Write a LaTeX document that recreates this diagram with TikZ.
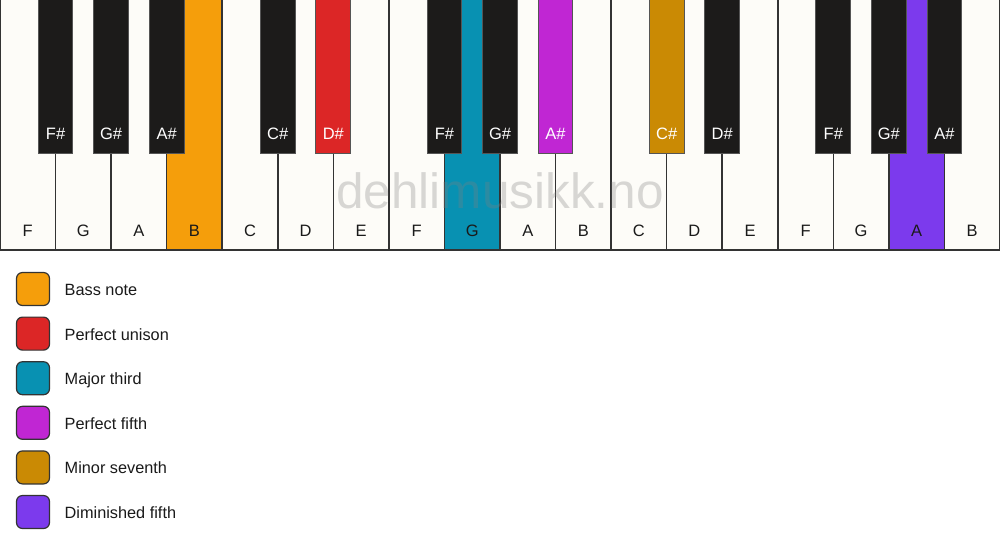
\documentclass[tikz,border=0pt]{standalone}
\usepackage{fontspec}
\setmainfont{Liberation Sans}
\definecolor{wk}{HTML}{FDFCF8}
\definecolor{bk}{HTML}{1C1B1A}
\definecolor{kline}{HTML}{333333}
\definecolor{bline}{HTML}{555555}
\definecolor{cBass}{HTML}{F59E0B}
\definecolor{cUni}{HTML}{DC2626}
\definecolor{cThird}{HTML}{0891B2}
\definecolor{cFifth}{HTML}{C026D3}
\definecolor{cSev}{HTML}{CA8A04}
\definecolor{cDim}{HTML}{7C3AED}
\definecolor{txt}{HTML}{1A1A1A}
\tikzset{
  whitekey/.style={draw=kline, line width=1.5pt, minimum width=55.5556pt, minimum height=254pt, inner sep=0pt, outer sep=0pt, anchor=north west},
  blackkey/.style={draw=bline, line width=1pt, minimum width=34.7pt, minimum height=157pt, inner sep=0pt, outer sep=0pt, anchor=north},
  wlabel/.style={font=\fontsize{16.5}{16.5}\selectfont, text=txt, inner sep=0pt, anchor=base},
  blabel/.style={font=\fontsize{16.5}{16.5}\selectfont, text=white, inner sep=0pt, anchor=base},
  legbox/.style={draw=kline, line width=1.2pt, minimum size=33pt, rounded corners=6pt, inner sep=0pt},
  legtext/.style={font=\fontsize{16.3}{16.3}\selectfont, text=txt, inner sep=0pt, anchor=base west},
  watermark/.style={font=\fontsize{49.5}{49.5}\selectfont, text=black!50, text opacity=0.3, inner sep=0pt, anchor=base}
}
\begin{document}
\begin{tikzpicture}[x=1pt,y=-1pt]
\fill[white] (0,0) rectangle (1000,550);
\useasboundingbox (0,0) rectangle (1000,550);
% white keys
\foreach \n/\c [count=\i from 0] in {F/wk,G/wk,A/wk,B/cBass,C/wk,D/wk,E/wk,F/wk,G/cThird,A/wk,B/wk,C/wk,D/wk,E/wk,F/wk,G/wk,A/cDim,B/wk} {
  \node[whitekey, fill=\c] (w\i) at (\i*55.5556,-4) {};
  \node[wlabel] (wl\i) at (\i*55.5556+27.7778,236) {\n};
}
% black keys
\foreach \b/\n/\c in {1/F\#/bk,2/G\#/bk,3/A\#/bk,5/C\#/bk,6/D\#/cUni,8/F\#/bk,9/G\#/bk,10/A\#/cFifth,12/C\#/cSev,13/D\#/bk,15/F\#/bk,16/G\#/bk,17/A\#/bk} {
  \node[blackkey, fill=\c] (b\b) at (\b*55.5556,-4) {};
  \node[blabel] (bl\b) at (\b*55.5556,139) {\n};
}
% watermark
\node[watermark] (wm) at (500,208) {dehlimusikk.no};
% legend
\foreach \t/\c [count=\k from 0] in {Bass note/cBass,Perfect unison/cUni,Major third/cThird,Perfect fifth/cFifth,Minor seventh/cSev,Diminished fifth/cDim} {
  \node[legbox, fill=\c] (lb\k) at (33,289+\k*44.6) {};
  \node[legtext] (lt\k) at (64.5,295.5+\k*44.6) {\t};
}
\end{tikzpicture}
\end{document}
